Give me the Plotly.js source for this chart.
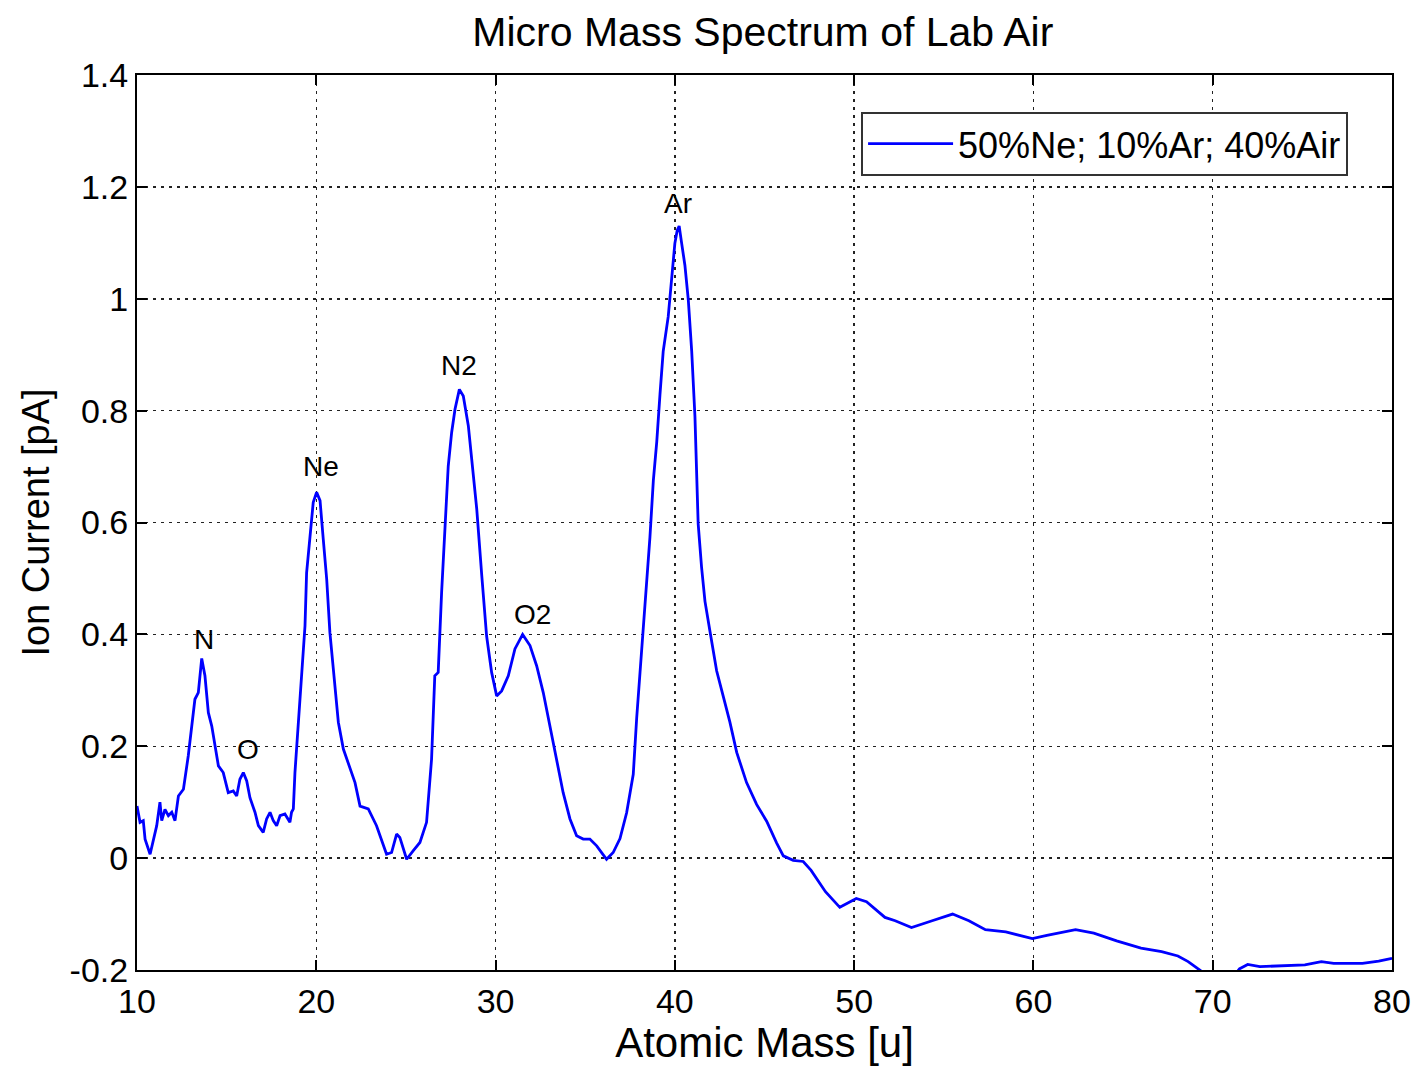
<!DOCTYPE html>
<html>
<head>
<meta charset="utf-8">
<script src="https://cdn.plot.ly/plotly-3.0.1.min.js"></script>
<style>html,body{margin:0;padding:0;background:#fff;}#chart{width:1418px;height:1066px;}</style>
</head>
<body>
<div id="chart"></div>
<script>
// Atomic mass [u]
const mass = [
  10.0, 10.17, 10.35, 10.45, 10.73, 10.91, 11.1, 11.28, 11.38, 11.56, 11.75, 11.94, 12.12, 12.31, 12.59,
  12.86, 13.05, 13.23, 13.42, 13.51, 13.61, 13.79, 13.98, 14.17, 14.35, 14.54, 14.81, 15.09, 15.37, 15.56,
  15.74, 15.93, 16.12, 16.3, 16.58, 16.77, 17.04, 17.23, 17.42, 17.6, 17.79, 17.98, 18.25, 18.53, 18.62,
  18.72, 18.81, 19.0, 19.18, 19.37, 19.46, 19.65, 19.83, 20.02, 20.21, 20.39, 20.58, 20.76, 20.95, 21.23,
  21.51, 21.88, 22.16, 22.44, 22.9, 23.36, 23.92, 24.2, 24.48, 24.66, 25.04, 25.4, 25.78, 26.15, 26.43,
  26.61, 26.8, 26.99, 27.18, 27.36, 27.55, 27.74, 27.98, 28.2, 28.48, 28.67, 28.95, 29.23, 29.5, 29.78,
  30.06, 30.34, 30.71, 31.08, 31.51, 31.92, 32.29, 32.66, 33.03, 33.4, 33.77, 34.15, 34.52, 34.89, 35.26,
  35.64, 35.92, 36.19, 36.56, 36.94, 37.31, 37.68, 37.87, 38.05, 38.24, 38.43, 38.61, 38.8, 38.99, 39.17,
  39.35, 39.63, 39.82, 40.0, 40.13, 40.24, 40.38, 40.56, 40.75, 40.94, 41.12, 41.3, 41.49, 41.68, 41.96,
  42.33, 42.7, 43.07, 43.45, 44.0, 44.56, 45.12, 45.68, 46.05, 46.6, 47.16, 47.6, 48.4, 49.2, 50.12,
  50.69, 51.72, 52.29, 53.2, 54.35, 55.49, 56.4, 57.32, 58.46, 59.94, 60.75, 62.35, 63.37, 64.64, 66.0,
  67.15, 68.06, 68.63, 69.32, 69.8, 70.5, 71.2, 71.49, 71.95, 72.63, 74.0, 75.14, 76.06, 76.75, 78.35,
  79.26, 80.0
];
// Ion current [pA]
const current = [
  0.093, 0.064, 0.067, 0.034, 0.007, 0.034, 0.058, 0.100, 0.067, 0.087, 0.076, 0.082, 0.067, 0.111, 0.123,
  0.183, 0.236, 0.284, 0.296, 0.332, 0.357, 0.326, 0.260, 0.236, 0.200, 0.165, 0.153, 0.117, 0.120, 0.111,
  0.141, 0.153, 0.138, 0.108, 0.082, 0.058, 0.046, 0.070, 0.082, 0.067, 0.058, 0.076, 0.079, 0.064, 0.082,
  0.088, 0.153, 0.243, 0.332, 0.415, 0.510, 0.570, 0.636, 0.654, 0.639, 0.570, 0.499, 0.403, 0.332, 0.243,
  0.195, 0.159, 0.135, 0.093, 0.088, 0.058, 0.007, 0.010, 0.043, 0.037, -0.002, 0.013, 0.028, 0.064, 0.177,
  0.326, 0.332, 0.475, 0.594, 0.701, 0.761, 0.803, 0.838, 0.826, 0.773, 0.713, 0.624, 0.505, 0.397, 0.332,
  0.290, 0.299, 0.326, 0.374, 0.400, 0.380, 0.344, 0.296, 0.236, 0.177, 0.117, 0.070, 0.040, 0.034, 0.034,
  0.022, 0.010, -0.002, 0.010, 0.035, 0.081, 0.150, 0.250, 0.328, 0.405, 0.482, 0.574, 0.675, 0.744, 0.829,
  0.906, 0.968, 1.037, 1.099, 1.122, 1.130, 1.099, 1.060, 0.998, 0.906, 0.790, 0.598, 0.520, 0.459, 0.405,
  0.335, 0.289, 0.243, 0.189, 0.135, 0.096, 0.066, 0.027, 0.004, -0.004, -0.006, -0.022, -0.060, -0.088, -0.072,
  -0.078, -0.106, -0.112, -0.124, -0.112, -0.100, -0.112, -0.128, -0.132, -0.144, -0.138, -0.128, -0.134, -0.148, -0.161,
  -0.167, -0.175, -0.185, -0.201, -0.215, -0.220, -0.210, -0.198, -0.190, -0.194, -0.192, -0.191, -0.185, -0.188, -0.188,
  -0.184, -0.179
];
// Peak labels
const peakNames = ["N", "O", "Ne", "N2", "O2", "Ar"];
const peakMass = [13.75, 16.2, 20.25, 27.95, 32.05, 40.2];
const peakLabelY = [0.39, 0.195, 0.70, 0.88, 0.435, 1.17];
// Tick labels
const xTickVals = [10, 20, 30, 40, 50, 60, 70, 80];
const xTickText = ["10", "20", "30", "40", "50", "60", "70", "80"];
const yTickVals = [-0.2, 0, 0.2, 0.4, 0.6, 0.8, 1, 1.2, 1.4];
const yTickText = ["-0.2", "0", "0.2", "0.4", "0.6", "0.8", "1", "1.2", "1.4"];
const seriesName = "50%Ne; 10%Ar; 40%Air";

const font = "Liberation Sans, Arial, Helvetica, sans-serif";

const axisCommon = {
  showline: true, linecolor: "#000", linewidth: 2, mirror: "allticks",
  ticks: "inside", ticklen: 10, tickwidth: 2, tickcolor: "#000",
  showgrid: true, gridcolor: "#222", gridwidth: 1.5, griddash: "3px,5px",
  zeroline: false, tickmode: "array",
  tickfont: {family: font, size: 34, color: "#000"}
};

const data = [{
  x: mass, y: current, type: "scatter", mode: "lines", name: seriesName,
  line: {color: "#0000ff", width: 2.8}
}];

const layout = {
  width: 1418, height: 1066,
  paper_bgcolor: "#fff", plot_bgcolor: "#fff",
  margin: {l: 137, r: 26, t: 75, b: 96},
  font: {family: font, color: "#000"},
  title: {text: "Micro Mass Spectrum of Lab Air", font: {family: font, size: 41, color: "#000"},
          x: 0.538, xanchor: "center", y: 0.97, yanchor: "middle"},
  xaxis: Object.assign({}, axisCommon, {
    range: [10, 80], tickvals: xTickVals, ticktext: xTickText,
    title: {text: "Atomic Mass [u]", font: {family: font, size: 42, color: "#000"}, standoff: 10}
  }),
  yaxis: Object.assign({}, axisCommon, {
    range: [-0.2, 1.4], tickvals: yTickVals, ticktext: yTickText,
    title: {text: "Ion Current [pA]", font: {family: font, size: 38, color: "#000"}, standoff: 8}
  }),
  showlegend: true,
  legend: {
    x: 0.965, xanchor: "right", y: 0.959, yanchor: "top",
    bgcolor: "#fff", bordercolor: "#333", borderwidth: 2,
    font: {family: font, size: 36, color: "#000"}, itemwidth: 85
  },
  annotations: peakNames.map((t, i) => ({
    x: peakMass[i], y: peakLabelY[i], xref: "x", yref: "y", text: t, showarrow: false,
    font: {family: font, size: 28, color: "#000"}
  }))
};

Plotly.newPlot("chart", data, layout, {displayModeBar: false, staticPlot: true});
</script>
</body>
</html>
